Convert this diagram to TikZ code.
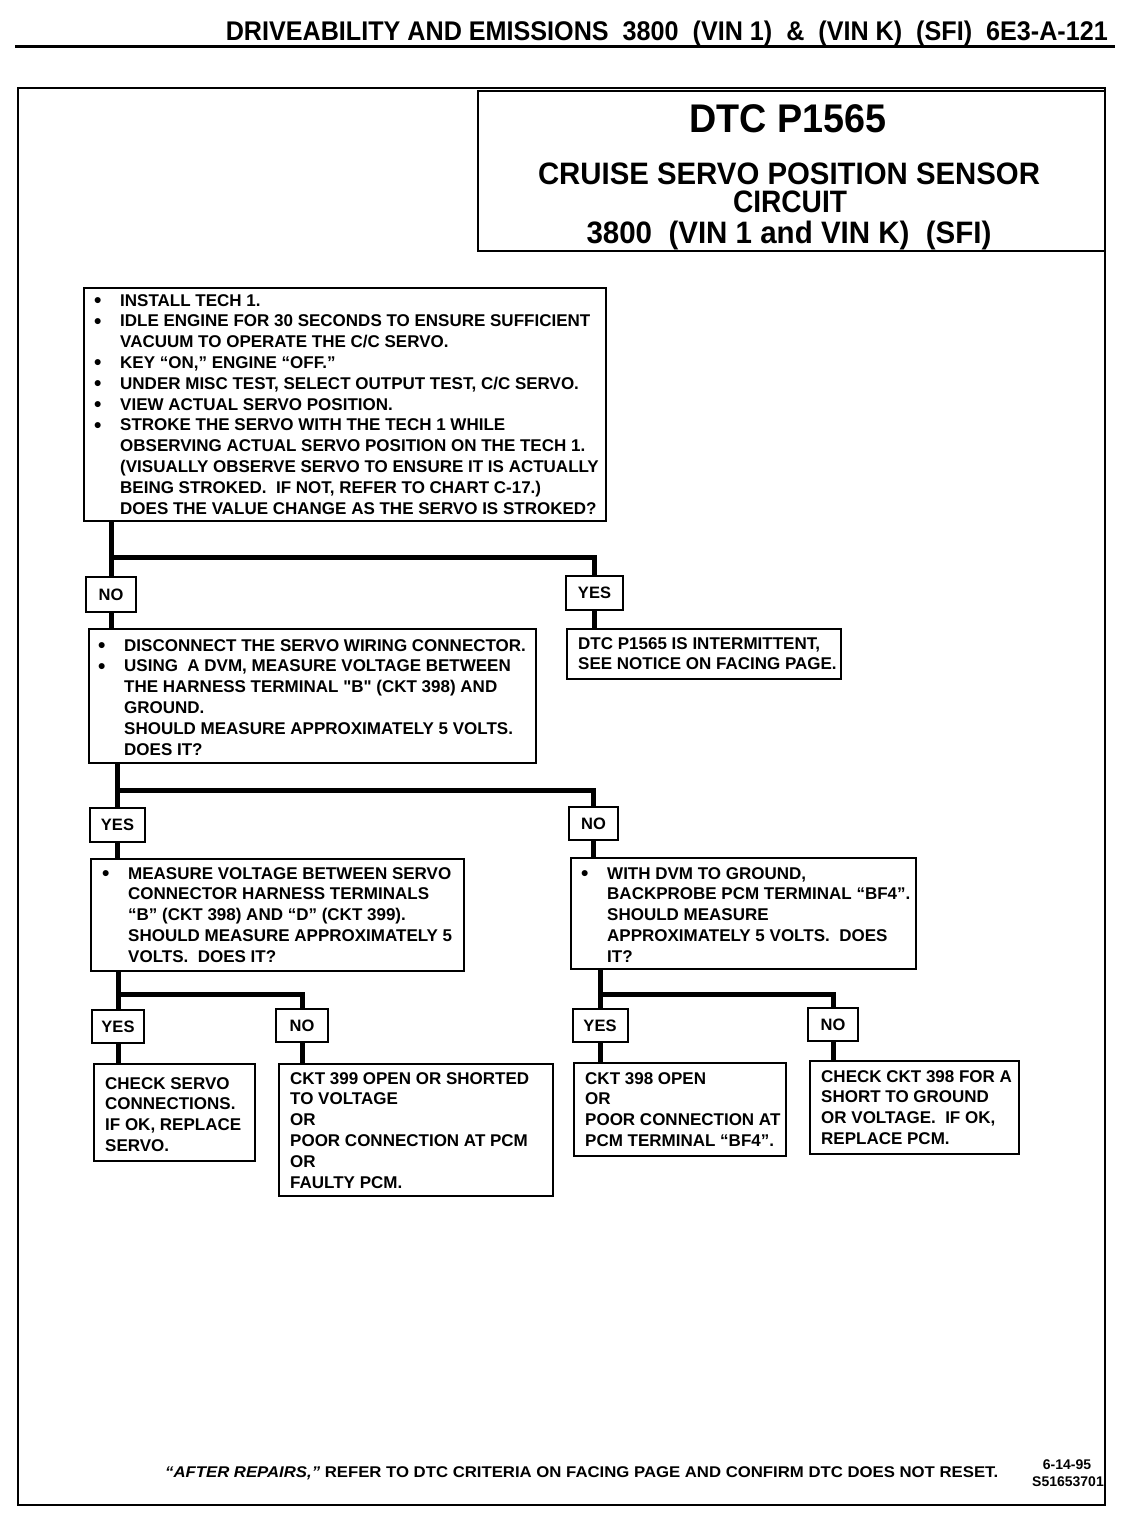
\documentclass[tikz,border=0pt]{standalone}
\usepackage{fontspec}
\usepackage{graphicx}
\setmainfont{Liberation Sans}
\newfontfamily\sqfont{Liberation Sans}
\newcommand{\fitw}[2]{\resizebox{#1}{\height}{#2}}
\newcommand{\bul}{\raisebox{-1.2pt}{\fontsize{21}{20}\selectfont\textbullet}}
\newcommand{\sq}{{\sqfont\bfseries\char34\relax}}
\tikzset{
  boxs/.style={draw, line width=2pt, rectangle, inner sep=0pt, anchor=north west},
  lbl/.style={draw, line width=2pt, rectangle, inner sep=0pt, font=\fontsize{16.5}{20.8}\selectfont\bfseries},
  conn/.style={line width=5pt, line join=miter},
  txt/.style={inner sep=0pt, anchor=base west, font=\fontsize{17}{20.8}\selectfont\bfseries},
  ttl/.style={inner sep=0pt, anchor=base, font=\bfseries}
}
\begin{document}
\begin{tikzpicture}[x=1pt,y=-1pt]
\useasboundingbox (0,0) rectangle (1136,1520);
% header
\node[inner sep=0pt, anchor=base east, font=\fontsize{27}{27}\selectfont\bfseries] (hdr) at (1108,41)
  {\fitw{882pt}{DRIVEABILITY AND EMISSIONS~~3800~~(VIN 1)~~\&~~(VIN K)~~(SFI)~~6E3-A-121}};
\coordinate (rl) at (15,47);
\coordinate (rr) at (1115,47);
\draw[line width=3pt] (rl) -- (rr);
% outer frame
\node[boxs, minimum width=1087pt, minimum height=1417pt] (frame) at (17,87) {};
% title box
\node[boxs, minimum width=627pt, minimum height=160pt] (title) at (477,90) {};
\node[ttl, font=\fontsize{40}{40}\selectfont\bfseries] (t1) at (788,132) {\fitw{197pt}{DTC P1565}};
\node[ttl, font=\fontsize{31}{31}\selectfont\bfseries] (t2) at (789,184) {\fitw{502pt}{CRUISE SERVO POSITION SENSOR}};
\node[ttl, font=\fontsize{31}{31}\selectfont\bfseries] (t3) at (790,212) {\fitw{114pt}{CIRCUIT}};
\node[ttl, font=\fontsize{31}{31}\selectfont\bfseries] (t4) at (789,243) {\fitw{405pt}{3800~~(VIN 1 and VIN K)~~(SFI)}};

% box 1
\node[boxs, minimum width=522pt, minimum height=233pt] (b1) at (83,287) {};
\node[txt] (b1t) at (94,306) {\begin{tabular}[t]{@{}p{26pt}@{}l@{}}
\bul & INSTALL TECH 1.\\
\bul & IDLE ENGINE FOR 30 SECONDS TO ENSURE SUFFICIENT\\
 & VACUUM TO OPERATE THE C/C SERVO.\\
\bul & KEY “ON,” ENGINE “OFF.”\\
\bul & UNDER MISC TEST, SELECT OUTPUT TEST, C/C SERVO.\\
\bul & VIEW ACTUAL SERVO POSITION.\\
\bul & STROKE THE SERVO WITH THE TECH 1 WHILE\\
 & OBSERVING ACTUAL SERVO POSITION ON THE TECH 1.\\
 & (VISUALLY OBSERVE SERVO TO ENSURE IT IS ACTUALLY\\
 & BEING STROKED.~~IF NOT, REFER TO CHART C-17.)\\
 & DOES THE VALUE CHANGE AS THE SERVO IS STROKED?
\end{tabular}};

\node[lbl, minimum width=50pt, minimum height=35pt] (no1) at (111,594.5) {NO};
\node[lbl, minimum width=57pt, minimum height=34pt] (yes1) at (594.5,593) {YES};
\coordinate (j1) at (0,557);
\draw[conn] (b1.south -| no1.north) -- (no1.north);
\draw[conn] (j1 -| no1.north) -| (yes1.north);

% box 2
\node[boxs, minimum width=447pt, minimum height=134pt] (b2) at (88,628) {};
\node[txt] (b2t) at (98,651) {\begin{tabular}[t]{@{}p{26pt}@{}l@{}}
\bul & DISCONNECT THE SERVO WIRING CONNECTOR.\\
\bul & USING~~A DVM, MEASURE VOLTAGE BETWEEN\\
 & THE HARNESS TERMINAL \sq B\sq\ (CKT 398) AND\\
 & GROUND.\\
 & SHOULD MEASURE APPROXIMATELY 5 VOLTS.\\
 & DOES IT?
\end{tabular}};
% box 3
\node[boxs, minimum width=274pt, minimum height=50pt] (b3) at (566,628) {};
\node[txt] (b3t) at (578,649) {\begin{tabular}[t]{@{}l@{}}
DTC P1565 IS INTERMITTENT,\\
SEE NOTICE ON FACING PAGE.
\end{tabular}};
\draw[conn] (no1.south) -- (no1.south |- b2.north);
\draw[conn] (yes1.south) -- (yes1.south |- b3.north);

% level 2 labels
\node[lbl, minimum width=55pt, minimum height=34pt] (yes2) at (117.5,825) {YES};
\node[lbl, minimum width=49pt, minimum height=33pt] (no2) at (593.5,823.5) {NO};
\coordinate (j2) at (0,790);
\draw[conn] (b2.south -| yes2.north) -- (yes2.north);
\draw[conn] (j2 -| yes2.north) -| (no2.north);

% box 4
\node[boxs, minimum width=373pt, minimum height=112pt] (b4) at (90,858) {};
\node[txt] (b4t) at (102,879) {\begin{tabular}[t]{@{}p{26pt}@{}l@{}}
\bul & MEASURE VOLTAGE BETWEEN SERVO\\
 & CONNECTOR HARNESS TERMINALS\\
 & “B” (CKT 398) AND “D” (CKT 399).\\
 & SHOULD MEASURE APPROXIMATELY 5\\
 & VOLTS.~~DOES IT?
\end{tabular}};
% box 5
\node[boxs, minimum width=345pt, minimum height=111pt] (b5) at (570,857) {};
\node[txt] (b5t) at (581,879) {\begin{tabular}[t]{@{}p{26pt}@{}l@{}}
\bul & WITH DVM TO GROUND,\\
 & BACKPROBE PCM TERMINAL “BF4”.\\
 & SHOULD MEASURE\\
 & APPROXIMATELY 5 VOLTS.~~DOES\\
 & IT?
\end{tabular}};
\draw[conn] (yes2.south) -- (yes2.south |- b4.north);
\draw[conn] (no2.south) -- (no2.south |- b5.north);

% level 3 labels
\node[lbl, minimum width=52pt, minimum height=33pt] (yes3) at (118,1026.5) {YES};
\node[lbl, minimum width=52pt, minimum height=33pt] (no3) at (302,1025.5) {NO};
\node[lbl, minimum width=55pt, minimum height=33pt] (yes4) at (600,1025.5) {YES};
\node[lbl, minimum width=50pt, minimum height=33pt] (no4) at (833,1024.5) {NO};
\coordinate (j3) at (0,994);
\draw[conn] (b4.south -| yes3.north) -- (yes3.north);
\draw[conn] (j3 -| yes3.north) -| (no3.north);
\draw[conn] (b5.south -| yes4.north) -- (yes4.north);
\draw[conn] (j3 -| yes4.north) -| (no4.north);

% bottom boxes
\node[boxs, minimum width=161pt, minimum height=97pt] (b6) at (93,1063) {};
\node[txt] (b6t) at (105,1089) {\begin{tabular}[t]{@{}l@{}}
CHECK SERVO\\
CONNECTIONS.\\
IF OK, REPLACE\\
SERVO.
\end{tabular}};
\node[boxs, minimum width=274pt, minimum height=132pt] (b7) at (278,1063) {};
\node[txt] (b7t) at (290,1084) {\begin{tabular}[t]{@{}l@{}}
CKT 399 OPEN OR SHORTED\\
TO VOLTAGE\\
OR\\
POOR CONNECTION AT PCM\\
OR\\
FAULTY PCM.
\end{tabular}};
\node[boxs, minimum width=212pt, minimum height=93pt] (b8) at (573,1062) {};
\node[txt] (b8t) at (585,1084) {\begin{tabular}[t]{@{}l@{}}
CKT 398 OPEN\\
OR\\
POOR CONNECTION AT\\
PCM TERMINAL “BF4”.
\end{tabular}};
\node[boxs, minimum width=209pt, minimum height=93pt] (b9) at (809,1060) {};
\node[txt] (b9t) at (821,1082) {\begin{tabular}[t]{@{}l@{}}
CHECK CKT 398 FOR A\\
SHORT TO GROUND\\
OR VOLTAGE.~~IF OK,\\
REPLACE PCM.
\end{tabular}};
\draw[conn] (yes3.south) -- (yes3.south |- b6.north);
\draw[conn] (no3.south) -- (no3.south |- b7.north);
\draw[conn] (yes4.south) -- (yes4.south |- b8.north);
\draw[conn] (no4.south) -- (no4.south |- b9.north);

% footer
\node[inner sep=0pt, anchor=base west, font=\fontsize{15.5}{15.5}\selectfont\bfseries] (foot) at (165,1477)
  {\fitw{833pt}{{\itshape “AFTER REPAIRS,”} REFER TO DTC CRITERIA ON FACING PAGE AND CONFIRM DTC DOES NOT RESET.}};
\node[inner sep=0pt, anchor=base, font=\fontsize{14}{14}\selectfont\bfseries] (date) at (1067,1469) {6-14-95};
\node[inner sep=0pt, anchor=base, font=\fontsize{14}{14}\selectfont\bfseries] (code) at (1068,1486) {S51653701};
\end{tikzpicture}
\end{document}
